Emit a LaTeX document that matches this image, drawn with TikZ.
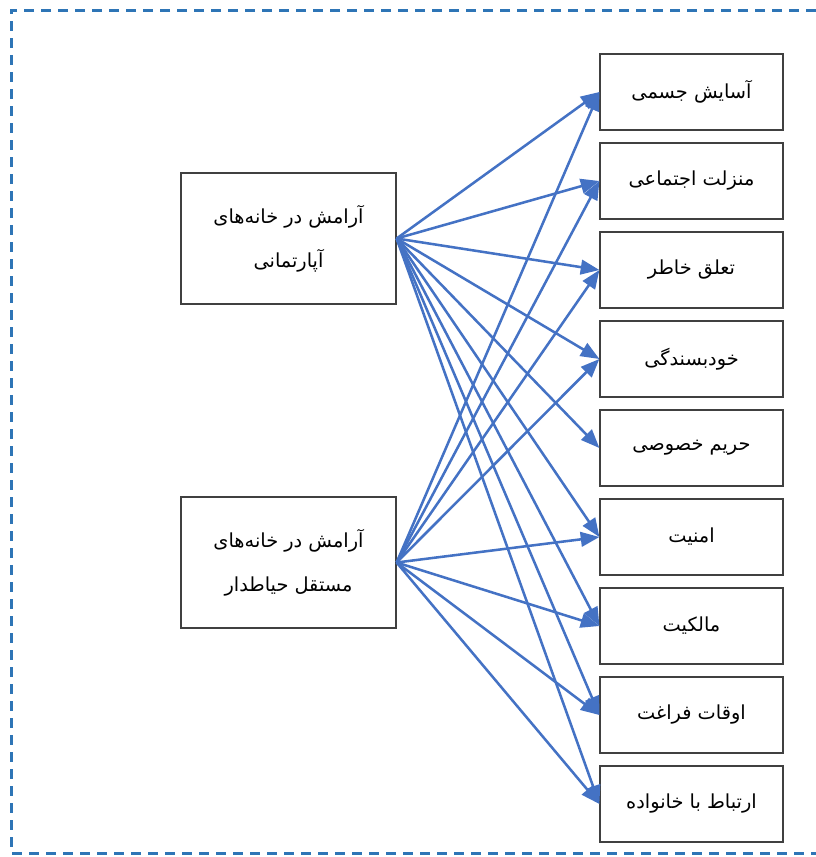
\documentclass[tikz,border=0pt]{standalone}
\usepackage{fontspec}
\usetikzlibrary{arrows.meta}
\TeXXeTstate=1
\newfontfamily\arabicfont[Script=Arabic]{DejaVu Sans}
\definecolor{figB}{RGB}{46,117,182}
\definecolor{figA}{RGB}{68,114,196}
\definecolor{figK}{RGB}{64,64,64}
\newcommand{\fa}[1]{\beginR #1\endR}

\begin{document}
\begin{tikzpicture}[x=0.75pt,y=-0.75pt,
  item/.style={draw=figK,line width=0.9pt,minimum width=137.25pt,minimum height=57pt,inner sep=0pt,
    font=\arabicfont\fontsize{14.5}{33}\selectfont},
  source/.style={item,minimum width=161.25pt,minimum height=98.25pt,align=center},
  link/.style={figA,line width=1.9pt,-{Triangle[length=14pt,width=11pt]}}]
\useasboundingbox (0,0) rectangle (816,857);
% dashed frame, open to the right
\draw[figB,line width=2.25pt,dash pattern=on 7.5pt off 5.25pt] (816,10)--(11,10)--(11,853)--(816,853);
% the two house types
\node[source] (apt) at (288.5,238.5) {\fa{آرامش در خانه‌های}\\\fa{آپارتمانی}};
\node[source] (yard) at (288.5,562.5) {\fa{آرامش در خانه‌های}\\\fa{مستقل حیاطدار}};
% factors
\foreach \t [count=\i] in {آسایش جسمی,منزلت اجتماعی,تعلق خاطر,خودبسندگی,حریم خصوصی,امنیت,مالکیت,اوقات فراغت,ارتباط با خانواده}
  \node[item] (f\i) at (691.5,{92+89*(\i-1)}) {\fa{\t}};
% links
\foreach \i in {1,...,9} \draw[link] (apt.east)--(f\i.west);
\foreach \i in {1,2,3,4,6,7,8,9} \draw[link] (yard.east)--(f\i.west);
\end{tikzpicture}
\end{document}
